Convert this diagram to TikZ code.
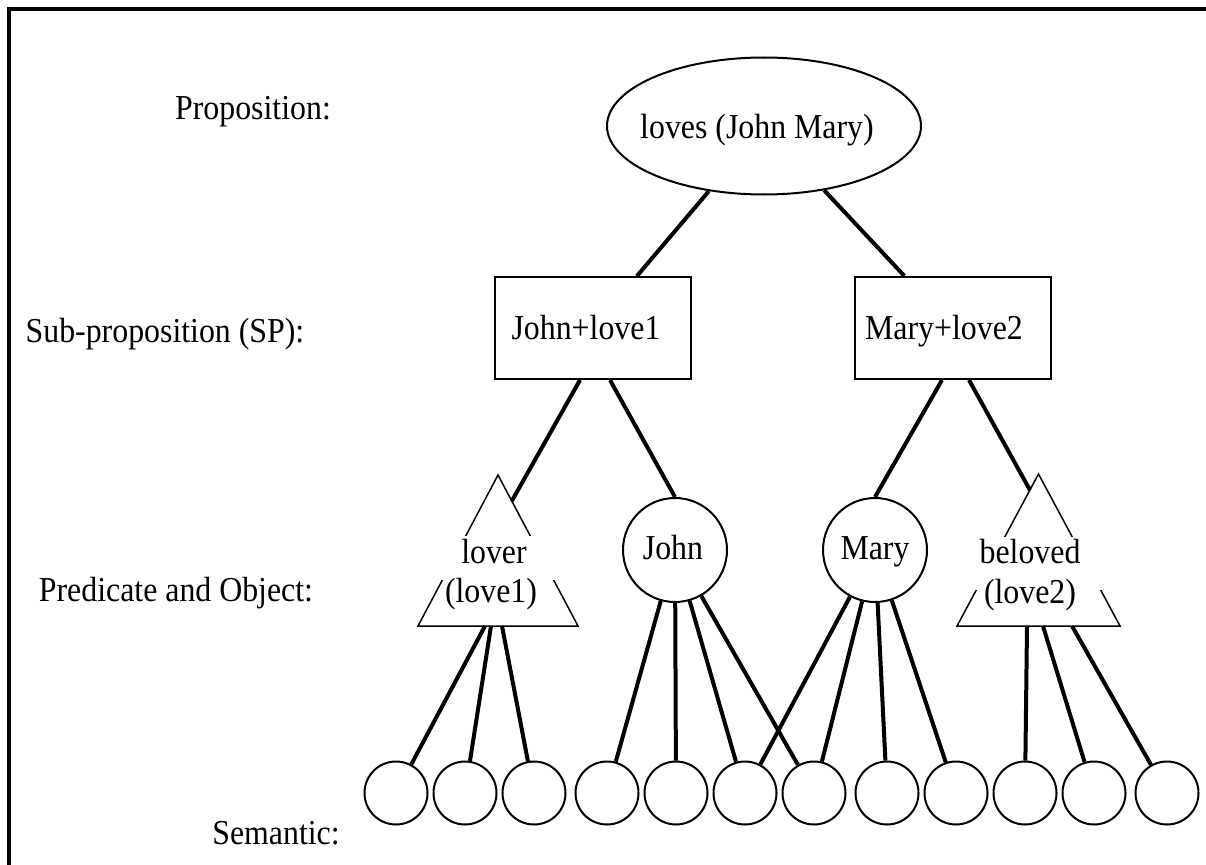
\documentclass[tikz,border=0pt]{standalone}
\usepackage{fontspec}
\setmainfont{Liberation Serif}[FakeStretch=0.91]
\usetikzlibrary{shapes.geometric,calc}
\tikzset{
  txt/.style={font=\fontsize{35}{40}\selectfont, inner sep=0pt, text height=23pt, text depth=0pt},
  prop/.style={draw, ellipse, line width=2pt, minimum width=314pt, minimum height=137pt, inner sep=0pt},
  spbox/.style={draw, rectangle, line width=2pt, minimum width=196pt, minimum height=102pt, inner sep=0pt},
  obj/.style={draw, circle, line width=2pt, minimum size=104pt, inner sep=0pt},
  sem/.style={draw, circle, line width=2pt, minimum size=63pt, inner sep=0pt},
  tri/.style={draw, line width=1.5pt, line join=miter},
  conn/.style={line width=4pt},
  frame/.style={line width=4pt, line join=miter}
}
\begin{document}
\begin{tikzpicture}[x=1pt,y=-1pt]
\useasboundingbox (0,0) rectangle (1206,864);
% frame (only top and left edges visible)
\coordinate (fbl) at (9,870);
\coordinate (ftl) at (9,9);
\coordinate (ftr) at (1212,9);
\draw[frame] (fbl) -- (ftl) -- (ftr);

% level labels
\node[txt] (l1) at (253,108) {Proposition:};
\node[txt] (l2) at (165,331) {Sub-proposition (SP):};
\node[txt] (l3) at (176,590) {Predicate and Object:};
\node[txt] (l4) at (276,833) {Semantic:};

% proposition
\node[prop] (ell) at (764,126) {};
\node[txt] (ellt) at (757,126.5) {loves (John Mary)};

% sub-propositions
\node[spbox] (box1) at (593,328) {};
\node[txt] (box1t) at (586,328) {John+love1};
\node[spbox] (box2) at (953,328) {};
\node[txt] (box2t) at (944,328) {Mary+love2};

% objects
\node[obj] (john) at (675,550) {};
\node[txt] (johnt) at (673,547.5) {John};
\node[obj] (mary) at (875,550) {};
\node[txt] (maryt) at (875,547.5) {Mary};

% triangle 1 (lover)
\coordinate (t1a) at (498,475);
\coordinate (t1r) at (578,626);
\coordinate (t1l) at (418,626);
\draw[tri] (t1a) -- (t1r) -- (t1l) -- cycle;
\fill[white] (440,536) rectangle (557,580);
\node[txt] (t1u) at (494,552) {lover};
\node[txt] (t1d) at (491,591) {(love1)};

% triangle 2 (beloved)
\coordinate (t2a) at (1038.5,474);
\coordinate (t2r) at (1120,626);
\coordinate (t2l) at (957,626);
\draw[tri] (t2a) -- (t2r) -- (t2l) -- cycle;
\fill[white] (974,537) rectangle (1104,590);
\node[txt] (t2u) at (1030,552) {beloved};
\node[txt] (t2d) at (1030,592) {(love2)};

% semantic units
\foreach \i/\x in {1/396,2/465,3/534,4/607,5/676,6/745,7/814,8/887,9/956,10/1025,11/1094,12/1167}{
  \node[sem] (c\i) at (\x,793) {};
}

% connectors: proposition -> SPs
\draw[conn] (ell) -- (box1);
\draw[conn] (ell) -- (box2);

% SP -> predicate/object
\coordinate (t1s) at (511.8,501);
\coordinate (t2s) at (1029.9,490);
\draw[conn] ($(box1.south)+(-13,0)$) -- (t1s);
\draw[conn] ($(box1.south)+(17,0)$) -- (john.north);
\draw[conn] ($(box2.south)+(-11,0)$) -- (mary.north);
\draw[conn] ($(box2.south)+(16,0)$) -- (t2s);

% predicate/object -> semantic
\coordinate (t1b1) at (485,626);
\coordinate (t1b2) at (491,626);
\coordinate (t1b3) at (502,626);
\draw[conn] (t1b1) -- (c1);
\draw[conn] (t1b2) -- (c2);
\draw[conn] (t1b3) -- (c3);

\foreach \j in {4,5,6,7}{ \draw[conn] (john) -- (c\j); }
\foreach \j in {6,7,8,9}{ \draw[conn] (mary) -- (c\j); }

\coordinate (t2b1) at (1027,626);
\coordinate (t2b2) at (1043,626);
\coordinate (t2b3) at (1072,626);
\draw[conn] (t2b1) -- (c10);
\draw[conn] (t2b2) -- (c11);
\draw[conn] (t2b3) -- (c12);
\end{tikzpicture}
\end{document}
